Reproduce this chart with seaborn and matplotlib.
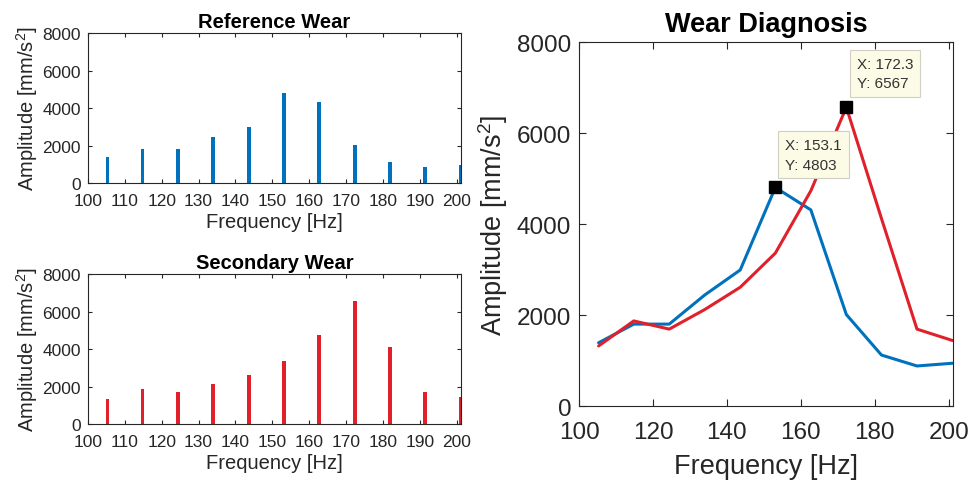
import matplotlib
matplotlib.use("Agg")
import matplotlib.pyplot as plt
import seaborn as sns
import pandas as pd

# Spectral peak frequencies [Hz]
freq = [105.3, 114.8, 124.4, 134.0, 143.6, 153.1, 162.7, 172.3, 181.8, 191.4, 201.0]
# Peak amplitudes [mm/s^2]
ref_amp = [1390, 1800, 1800, 2440, 2990, 4803, 4310, 2010, 1120, 880, 940]
sec_amp = [1320, 1870, 1690, 2120, 2610, 3360, 4730, 6567, 4120, 1690, 1440]

# Marked peaks
tip_ref = (153.1, 4803)
tip_sec = (172.3, 6567)

BLUE = "#0072BD"
RED = "#E0202A"
INK = "#262626"

sns.set_style("ticks")
plt.rcParams["font.family"] = ["Liberation Sans", "DejaVu Sans"]
plt.rcParams["mathtext.fontset"] = "custom"
plt.rcParams["mathtext.rm"] = "Liberation Sans"
plt.rcParams["mathtext.it"] = "Liberation Sans"

df = pd.DataFrame({"freq": freq, "ref": ref_amp, "sec": sec_amp})

fig = plt.figure(figsize=(9.71, 4.85), dpi=100)
ax1 = fig.add_axes([0.0906, 0.6206, 0.384, 0.309])
ax2 = fig.add_axes([0.0906, 0.1237, 0.384, 0.309])
ax3 = fig.add_axes([0.5963, 0.1608, 0.385, 0.7505])

ylab = r"Amplitude [mm/s$^{2}$]"


def style_axes(ax, fs_tick, fs_label, fs_title, title, xticks,
               xpad, ypad, xlabelpad, title_pad, ticklen):
    ax.set_xlim(100, 201.1)
    ax.set_ylim(0, 8000)
    ax.set_xticks(xticks)
    ax.set_yticks([0, 2000, 4000, 6000, 8000])
    ax.tick_params(direction="in", top=True, right=True, length=ticklen,
                   width=0.8, colors=INK, labelsize=fs_tick)
    ax.tick_params(axis="x", pad=xpad)
    ax.tick_params(axis="y", pad=ypad)
    for s in ax.spines.values():
        s.set_visible(True)
        s.set_color(INK)
        s.set_linewidth(0.8)
    ax.set_xlabel("Frequency [Hz]", fontsize=fs_label, color=INK, labelpad=xlabelpad)
    ax.set_ylabel(ylab, fontsize=fs_label, color=INK, labelpad=2)
    ax.set_title(title, fontsize=fs_title, fontweight="bold", color="black",
                 pad=title_pad)


# Stem-like spectra
sns.barplot(data=df, x="freq", y="ref", native_scale=True, width=0.11,
            color=BLUE, saturation=1, linewidth=0, ax=ax1)
sns.barplot(data=df, x="freq", y="sec", native_scale=True, width=0.11,
            color=RED, saturation=1, linewidth=0, ax=ax2)

ticks_fine = list(range(100, 201, 10))
for ax, ttl in [(ax1, "Reference Wear"), (ax2, "Secondary Wear")]:
    style_axes(ax, 12.5, 14.5, 14.5, ttl, ticks_fine,
               xpad=7, ypad=5, xlabelpad=3, title_pad=4.5, ticklen=3)

# Overlay of both spectra
sns.lineplot(data=df, x="freq", y="ref", color=BLUE, linewidth=2.2, ax=ax3)
sns.lineplot(data=df, x="freq", y="sec", color=RED, linewidth=2.2, ax=ax3)
style_axes(ax3, 17.5, 19.5, 19.5, "Wear Diagnosis", [100, 120, 140, 160, 180, 200],
           xpad=11, ypad=5.5, xlabelpad=7, title_pad=8, ticklen=5)
ax3.yaxis.labelpad = 5

# Data tips on the two peaks
for (px, py), (tx, ty) in [(tip_ref, (155.8, 5890)), (tip_sec, (175.2, 7680))]:
    ax3.plot([px], [py], marker="s", markersize=8, color="black", linestyle="none",
             zorder=5)
    ax3.text(tx, ty, f"X: {px:.1f}\nY: {py:d}", fontsize=11, color="#333333",
             va="top", ha="left", linespacing=1.5, zorder=6,
             bbox=dict(boxstyle="square,pad=0.45", fc="#FBFBE6", ec="#CFCFC4", lw=0.8))

fig.savefig("out.png", dpi=100)
